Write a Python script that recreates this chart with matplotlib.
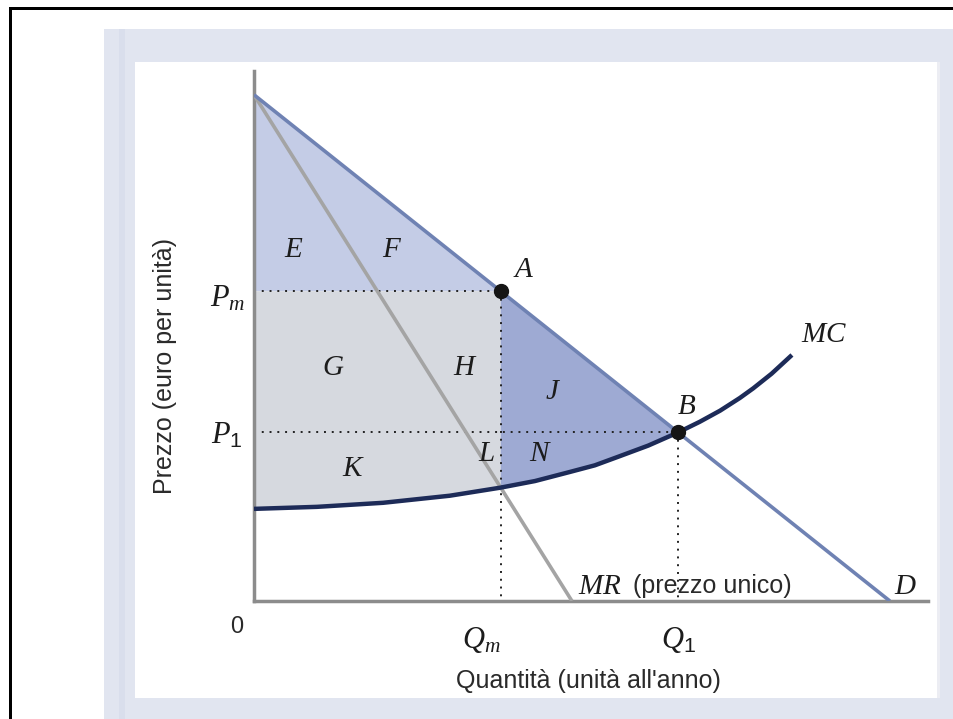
import numpy as np
import matplotlib.pyplot as plt
from matplotlib.patches import Rectangle, Polygon

plt.rcParams['mathtext.fontset'] = 'custom'
plt.rcParams['mathtext.it'] = 'Liberation Serif:italic'
plt.rcParams['mathtext.rm'] = 'Liberation Serif'
plt.rcParams['mathtext.sf'] = 'Liberation Sans'

# curve di domanda e ricavo marginale
demand_q = [0.0, 10.0]
demand_p = [10.0, 0.0]
mr_q = [0.0, 5.0]
mr_p = [10.0, 0.0]

# costo marginale
mc_q = [0.00, 0.99, 2.03, 3.08, 3.88, 4.42, 4.97, 5.36, 5.75, 6.20, 6.67,
        7.01, 7.33, 7.64, 7.85, 8.14, 8.46]
mc_p = [1.82, 1.86, 1.94, 2.08, 2.24, 2.37, 2.55, 2.68, 2.86, 3.07, 3.33,
        3.54, 3.76, 4.01, 4.20, 4.49, 4.86]

# punti A e B
q_m, p_m = 3.88, 6.12
q_1, p_1 = 6.67, 3.33

W, H = 954, 719
fig = plt.figure(figsize=(W / 100, H / 100), dpi=100)
fig.patch.set_facecolor('white')


def fx(px):
    return px / W


def fy(py):
    return 1 - py / H


def rect(x0, y0, x1, y1, color):
    fig.add_artist(Rectangle((fx(x0), fy(y1)), fx(x1) - fx(x0), fy(y0) - fy(y1),
                             transform=fig.transFigure, facecolor=color,
                             edgecolor='none', zorder=-10))


# sfondo: cornice nera, pannello lilla, riquadro bianco
rect(104, 29, 954, 719, '#e1e5f0')
rect(119, 29, 125, 719, '#d9deec')
rect(135, 62, 940, 698, '#ecedf3')
rect(135, 62, 937, 698, 'white')
rect(9, 7, 954, 10, 'black')
rect(9, 7, 12, 719, 'black')

# assi: x da 0 a 10.6, y da 0 a 10.47
ax = fig.add_axes([fx(254), fy(601), fx(928) - fx(254), fy(71) - fy(601)])
ax.set_xlim(0, 10.6)
ax.set_ylim(0, 10.47)
ax.patch.set_alpha(0)
for s in ['top', 'right']:
    ax.spines[s].set_visible(False)
for s in ['left', 'bottom']:
    ax.spines[s].set_color('#8c8c8c')
    ax.spines[s].set_linewidth(2.5)
ax.set_xticks([])
ax.set_yticks([])

mc_q = np.array(mc_q)
mc_p = np.array(mc_p)

# aree
ax.add_patch(Polygon([(0, demand_p[0]), (q_m, p_m), (0, p_m)], closed=True,
                     facecolor='#c4cce6', edgecolor='none', zorder=1))
left = mc_q <= q_m
ax.fill_between(mc_q[left], mc_p[left], p_m, facecolor='#d6d9df',
                edgecolor='none', zorder=1)
mid = (mc_q >= q_m) & (mc_q <= q_1)
ax.fill_between(mc_q[mid], mc_p[mid], np.interp(mc_q[mid], demand_q, demand_p),
                facecolor='#9eaad3', edgecolor='none', zorder=1)

# linee tratteggiate
dot = dict(color='#222222', linestyle=(0, (1, 3)), linewidth=1.4, zorder=2)
ax.plot([0, q_m], [p_m, p_m], **dot)
ax.plot([q_m, q_m], [p_m, 0], **dot)
ax.plot([0, q_1], [p_1, p_1], **dot)
ax.plot([q_1, q_1], [p_1, 0], **dot)

# curve
ax.plot(mr_q, mr_p, color='#a4a4a4', linewidth=2.6, zorder=3,
        solid_capstyle='butt')
ax.plot(demand_q, demand_p, color='#6f82b3', linewidth=2.6, zorder=4,
        solid_capstyle='butt')
ax.plot(mc_q, mc_p, color='#1d2b58', linewidth=3.2, zorder=5,
        solid_capstyle='butt', solid_joinstyle='round')
ax.plot([q_m, q_1], [p_m, p_1], 'o', color='#151515', markersize=10, zorder=6)

# etichette
ink = '#1c1c1c'
lab = dict(fontsize=21, color=ink, ha='center', va='center', zorder=7)
letters = [('E', 0.63, 6.96), ('F', 2.17, 6.96), ('A', 4.25, 6.56),
           ('G', 1.24, 4.62), ('H', 3.32, 4.62), ('J', 4.70, 4.15),
           ('B', 6.81, 3.85), ('L', 3.66, 2.92), ('N', 4.51, 2.92),
           ('K', 1.57, 2.63), ('MC', 8.97, 5.28), ('D', 10.24, 0.30)]
for t, x, y in letters:
    ax.text(x, y, '$' + t + '$', **lab)

ax.text(5.09, 0.30, '$MR$', fontsize=21, color=ink, ha='left', va='center')
ax.text(5.96, 0.30, '(prezzo unico)', fontsize=18, color='#2a2a2a',
        ha='left', va='center', family='Liberation Sans')

tick = dict(fontsize=22, color=ink, ha='center', va='center', clip_on=False)
ax.text(-0.41, 5.99, '$P_m$', **tick)
ax.text(-0.42, 3.28, r'$P_{\mathsf{1}}$', **tick)
ax.text(3.58, -0.77, '$Q_m$', **tick)
ax.text(6.67, -0.77, r'$Q_{\mathsf{1}}$', **tick)
ax.text(-0.27, -0.51, '0', fontsize=17, color='#2a2a2a', ha='center',
        va='center', family='Liberation Sans', clip_on=False)

fig.text(fx(165), fy(366), 'Prezzo (euro per unità)', rotation=90,
         fontsize=18, color='#2a2a2a', ha='center', va='center',
         family='Liberation Sans')
fig.text(fx(588), fy(681), "Quantità (unità all'anno)", fontsize=18,
         color='#2a2a2a', ha='center', va='center', family='Liberation Sans')

fig.savefig('out.png', dpi=100)
